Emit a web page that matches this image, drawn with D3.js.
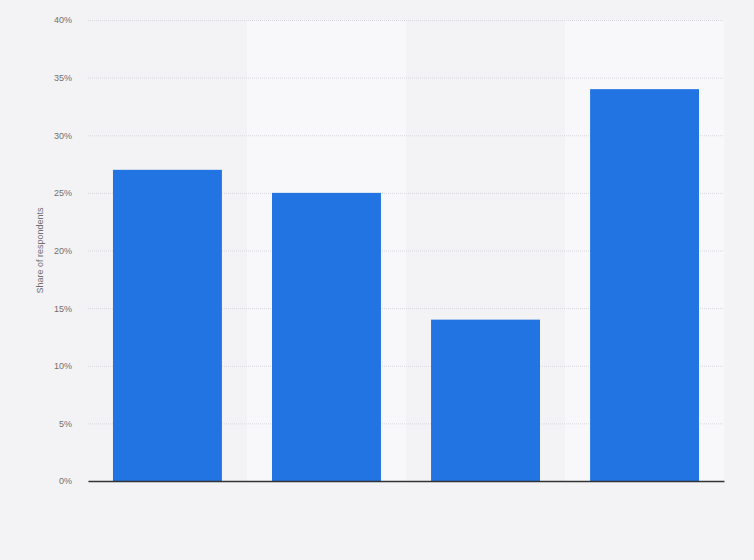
<!DOCTYPE html>
<html>
<head>
<meta charset="utf-8">
<script src="https://cdn.jsdelivr.net/npm/d3@7"></script>
<style>
  html, body { margin: 0; padding: 0; background: #f3f2f5; }
  svg { display: block; font-family: "Liberation Sans", Arial, sans-serif; }
</style>
</head>
<body>
<svg id="chart"></svg>
<script>
// category names are not shown in the picture, only their positions
var categories = ['A', 'B', 'C', 'D'];
var shares = [27, 25, 14, 34];
var yTicks = [0, 5, 10, 15, 20, 25, 30, 35, 40];

var chart = {
    width: 754,
    height: 560,
    margin: { top: 20, right: 30, bottom: 79, left: 88 },
    barColor: '#2174e2',
    bandColor: '#f8f7fa',
    gridColor: '#d9d9de',
    textColor: '#707070'
};

window.onload = function() {
    drawChart();
};

function drawChart() {
    var w = chart.width - chart.margin.left - chart.margin.right;
    var h = chart.height - chart.margin.top - chart.margin.bottom;

    var svg = d3.select('#chart')
        .attr('width', chart.width)
        .attr('height', chart.height);
    var g = svg.append('g')
        .attr('transform', 'translate(' + chart.margin.left + ',' + chart.margin.top + ')');

    var data = categories.map(function(c, i) { return { category: c, value: shares[i] }; });

    var x = d3.scaleBand()
        .domain(categories)
        .range([0, w])
        .paddingInner(0.315)
        .paddingOuter(0.157);
    var y = d3.scaleLinear().domain([0, 40]).range([h, 0]);

    // lighter background on every second column
    g.selectAll('rect.band')
        .data(data.filter(function(d, i) { return i % 2 === 1; }))
        .enter().append('rect')
        .attr('class', 'band')
        .attr('x', function(d) { return x(d.category) - x.step() * x.paddingInner() / 2; })
        .attr('y', 0)
        .attr('width', x.step())
        .attr('height', h)
        .attr('fill', chart.bandColor);

    var yAxis = d3.axisLeft(y)
        .tickValues(yTicks)
        .tickSize(-w)
        .tickPadding(16)
        .tickFormat(function(d) { return d + '%'; });
    var ya = g.append('g').call(yAxis);
    ya.select('.domain').remove();
    ya.selectAll('.tick line')
        .attr('stroke', chart.gridColor)
        .attr('stroke-dasharray', '1,1');
    ya.selectAll('.tick text')
        .attr('fill', chart.textColor)
        .style('font-size', '9px');

    g.selectAll('rect.bar')
        .data(data)
        .enter().append('rect')
        .attr('class', 'bar')
        .attr('x', function(d) { return x(d.category); })
        .attr('y', function(d) { return y(d.value); })
        .attr('width', x.bandwidth())
        .attr('height', function(d) { return h - y(d.value); })
        .attr('fill', chart.barColor);

    var xa = g.append('g')
        .attr('transform', 'translate(0,' + h + ')')
        .call(d3.axisBottom(x).tickSize(0).tickFormat(''));
    xa.select('.domain')
        .attr('stroke', '#333')
        .attr('stroke-width', 1.5);

    svg.append('text')
        .attr('transform', 'translate(43,' + (chart.margin.top + h / 2) + ') rotate(-90)')
        .attr('text-anchor', 'middle')
        .attr('fill', chart.textColor)
        .style('font-size', '9px')
        .text('Share of respondents');
}
</script>
</body>
</html>
